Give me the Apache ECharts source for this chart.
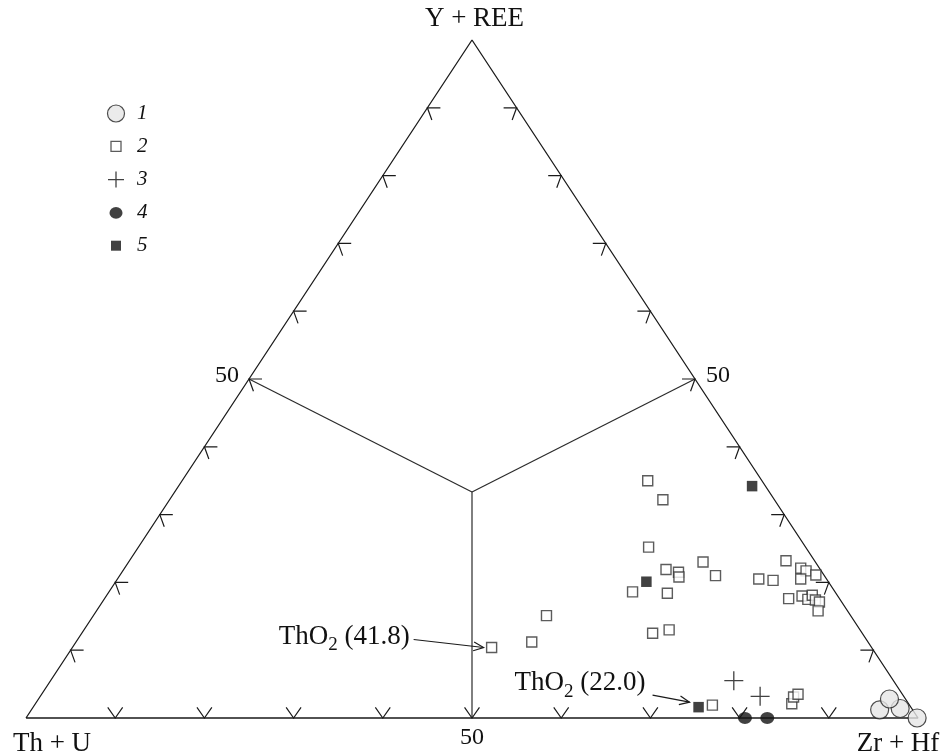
<!DOCTYPE html>
<html>
<head>
<meta charset="utf-8">
<script src="https://cdn.jsdelivr.net/npm/echarts@6/dist/echarts.min.js"></script>
<style>html,body{margin:0;padding:0;background:#fff}#chart{width:943px;height:756px}</style>
</head>
<body>
<div id="chart"></div>
<script>
// ---------------- data (compositions in %: [Th+U, Y+REE, Zr+Hf]) ----------------
const vertexNames = ['Th + U', 'Y + REE', 'Zr + Hf'];
const tickValues = [10, 20, 30, 40, 50, 60, 70, 80, 90];
const midLabel = '50';
const seriesNames = ['1', '2', '3', '4', '5'];

const group1 = [[3.7, 1.2, 95.1], [1.3, 1.4, 97.3], [1.8, 2.8, 95.4], [0.1, 0.0, 99.9]];
const group2 = [
  [12.8, 35.0, 52.2], [12.5, 32.2, 55.3], [17.6, 25.2, 57.2], [17.3, 21.9, 60.8],
  [16.1, 21.5, 62.4], [16.4, 20.8, 62.8], [12.6, 23.0, 64.4], [12.2, 21.0, 66.8],
  [22.7, 18.6, 58.7], [18.9, 18.4, 62.7], [23.5, 12.5, 64.0], [21.4, 13.0, 65.6],
  [34.1, 15.1, 50.8], [37.7, 11.2, 51.1], [42.6, 10.4, 47.0], [7.6, 20.5, 71.9],
  [6.1, 20.3, 73.6], [3.2, 23.2, 73.6], [2.1, 22.1, 75.8], [1.7, 21.7, 76.6],
  [2.9, 20.5, 76.6], [0.9, 21.1, 78.0], [5.7, 17.6, 76.7], [4.0, 18.0, 78.0],
  [3.6, 17.5, 78.9], [2.8, 18.1, 79.1], [2.8, 17.4, 79.8], [2.5, 17.1, 80.4],
  [3.3, 15.8, 80.9], [22.1, 1.9, 76.0], [13.1, 2.1, 84.8], [12.4, 3.1, 84.5],
  [11.7, 3.5, 84.8]
];
const group3 = [[17.9, 5.5, 76.6], [16.1, 3.2, 80.7]];
const group4 = [[19.4, 0.0, 80.6], [16.9, 0.0, 83.1]];
const group5 = [[1.5, 34.2, 64.3], [20.4, 20.1, 59.5], [23.8, 1.6, 74.6]];
const groups = [group1, group2, group3, group4, group5];

const annotations = [
  { label: 'ThO{s|2} (41.8)', group: 1, index: 14 },
  { label: 'ThO{s|2} (22.0)', group: 4, index: 2 }
];

// ---------------- helpers / styles ----------------
const FONT = '"Liberation Serif", "Times New Roman", serif';
const INK = '#1a1a1a';
function toXY(t) {
  const s = t[0] + t[1] + t[2];
  return [(t[2] + t[1] / 2) / s * 100, t[1] / s * 100];
}
const vertices = [[100, 0, 0], [0, 100, 0], [0, 0, 100]];
const centroid = [100 / 3, 100 / 3, 100 / 3];
const sideMids = [[50, 50, 0], [0, 50, 50], [50, 0, 50]];      // left, right, bottom
function sidePoint(side, t) {
  if (side === 0) return [100 - t, t, 0];
  if (side === 1) return [0, t, 100 - t];
  return [t, 0, 100 - t];
}
const TICK_LEN = 13, TICK_HALF = 35 * Math.PI / 180;
const TICK_DIR = [215, -35, 90];  // arrowhead pointing direction per side (deg, screen)
const VERTEX_LAYOUT = [[26, 26, 'center'], [2.5, -21, 'center'], [-20, 26, 'center']];
const MID_LAYOUT = [[-10, -3, 'right'], [11, -3, 'left'], [0, 20, 'center']];
const ANN_LAYOUT = [
  { from: [-78, -8], to: [-8, 0], text: [-82, -11] },
  { from: [-46, -12], to: [-9, -5], text: [-53, -24] }
];
function arrowHead(tip, ang, len, half) {
  const a1 = ang + Math.PI - half, a2 = ang + Math.PI + half;
  return [[tip[0] + len * Math.cos(a1), tip[1] + len * Math.sin(a1)], [tip[0], tip[1]],
          [tip[0] + len * Math.cos(a2), tip[1] + len * Math.sin(a2)]];
}

const tickData = [];
[0, 1, 2].forEach(side => tickValues.forEach(t => {
  const xy = toXY(sidePoint(side, t));
  tickData.push([xy[0], xy[1], side]);
}));

const triangle = [vertices[0], vertices[1], vertices[2], vertices[0]].map(toXY);

const chart = echarts.init(document.getElementById('chart'), null, { renderer: 'canvas' });

const pointStyles = [
  { symbol: 'circle', symbolSize: 18, itemStyle: { color: '#e6e6e6', borderColor: '#222', borderWidth: 1.2 }, z: 8 },
  { symbol: 'rect', symbolSize: 10, itemStyle: { color: '#fff', borderColor: '#333', borderWidth: 1.4 }, z: 5 },
  { symbol: 'path://M0,9.5H19M9.5,0V19', symbolSize: 19, itemStyle: { color: 'none', borderColor: '#111', borderWidth: 1.3 }, z: 6 },
  { symbol: 'circle', symbolSize: [14, 12], itemStyle: { color: '#111', borderColor: '#111', borderWidth: 0 }, z: 7 },
  { symbol: 'rect', symbolSize: 10.5, itemStyle: { color: '#111', borderColor: '#111', borderWidth: 0 }, z: 6 }
];
const legendIcons = [
  { icon: 'circle', itemStyle: { color: '#e6e6e6', borderColor: '#222', borderWidth: 1.2 } },
  { icon: 'path://M0,0M17,17M3.5,3.5h10v10h-10z', itemStyle: { color: '#fff', borderColor: '#333', borderWidth: 1.3 } },
  { icon: 'path://M0,0M17,17M0.5,8.5H16.5M8.5,0.5V16.5', itemStyle: { color: 'none', borderColor: '#111', borderWidth: 1.3 } },
  { icon: 'path://M0,0M17,17M2,8.5a6.5,5.8 0 1,0 13,0a6.5,5.8 0 1,0 -13,0z', itemStyle: { color: '#111', borderColor: '#111', borderWidth: 0 } },
  { icon: 'path://M0,0M17,17M3.5,3.5h10v10h-10z', itemStyle: { color: '#111', borderColor: '#111', borderWidth: 0 } }
];

const scatterSeries = seriesNames.map((name, k) => Object.assign({
  name: name,
  type: 'scatter',
  data: groups[k].map(toXY),
  silent: true,
  clip: false
}, pointStyles[k]));

chart.setOption({
  animation: false,
  backgroundColor: '#fff',
  grid: { left: 26, right: 25, top: 40, bottom: 38 },
  xAxis: { type: 'value', min: 0, max: 100, show: false },
  yAxis: { type: 'value', min: 0, max: 100, show: false },
  legend: {
    orient: 'vertical', left: 105, top: 103, padding: 0,
    itemWidth: 32, itemHeight: 17, itemGap: 11.8,
    selectedMode: false,
    textStyle: { fontFamily: FONT, fontStyle: 'italic', fontSize: 21, color: '#111' },
    data: seriesNames.map((n, k) => Object.assign({ name: n }, legendIcons[k]))
  },
  series: [
    {
      type: 'line', data: triangle, symbol: 'none', silent: true, clip: false, z: 2,
      lineStyle: { color: INK, width: 1.3 }
    },
    {
      type: 'custom', silent: true, clip: false, z: 2,
      data: sideMids.map(toXY),
      renderItem: (params, api) => {
        const c = api.coord(toXY(centroid));
        const p = api.coord([api.value(0), api.value(1)]);
        return { type: 'line', shape: { x1: c[0], y1: c[1], x2: p[0], y2: p[1] },
                 style: { stroke: '#2a2a2a', lineWidth: 1.2 } };
      }
    },
    {
      type: 'custom', silent: true, clip: false, z: 3,
      data: tickData,
      renderItem: (params, api) => {
        const p = api.coord([api.value(0), api.value(1)]);
        const ang = TICK_DIR[api.value(2)] * Math.PI / 180;
        return { type: 'polyline', shape: { points: arrowHead(p, ang, TICK_LEN, TICK_HALF) },
                 style: { stroke: INK, lineWidth: 1.2, fill: null } };
      }
    },
    {
      type: 'custom', silent: true, clip: false, z: 3,
      data: vertices.map(toXY),
      renderItem: (params, api) => {
        const i = params.dataIndex, L = VERTEX_LAYOUT[i];
        const p = api.coord([api.value(0), api.value(1)]);
        return { type: 'text', x: p[0] + L[0], y: p[1] + L[1],
                 style: { text: vertexNames[i], fontFamily: FONT, fontSize: 27, fill: '#111',
                          align: L[2], verticalAlign: 'middle' } };
      }
    },
    {
      type: 'custom', silent: true, clip: false, z: 3,
      data: sideMids.map(toXY),
      renderItem: (params, api) => {
        const i = params.dataIndex, L = MID_LAYOUT[i];
        const p = api.coord([api.value(0), api.value(1)]);
        return { type: 'text', x: p[0] + L[0], y: p[1] + L[1],
                 style: { text: midLabel, fontFamily: FONT, fontSize: 24, fill: '#111',
                          align: L[2], verticalAlign: 'middle' } };
      }
    },
    {
      type: 'custom', silent: true, clip: false, z: 4,
      data: annotations.map(a => toXY(groups[a.group][a.index])),
      renderItem: (params, api) => {
        const i = params.dataIndex, L = ANN_LAYOUT[i];
        const p = api.coord([api.value(0), api.value(1)]);
        const s = [p[0] + L.from[0], p[1] + L.from[1]], t = [p[0] + L.to[0], p[1] + L.to[1]];
        const ang = Math.atan2(t[1] - s[1], t[0] - s[0]);
        return { type: 'group', children: [
          { type: 'line', shape: { x1: s[0], y1: s[1], x2: t[0], y2: t[1] }, style: { stroke: INK, lineWidth: 1.2 } },
          { type: 'polyline', shape: { points: arrowHead(t, ang, 11, 24 * Math.PI / 180) }, style: { stroke: INK, lineWidth: 1.2, fill: null } },
          { type: 'text', x: p[0] + L.text[0], y: p[1] + L.text[1],
            style: { text: annotations[i].label, fontFamily: FONT, fontSize: 27, fill: '#111',
                     align: 'right', verticalAlign: 'middle',
                     rich: { s: { fontFamily: FONT, fontSize: 19, fill: '#111', padding: [18, 0, 0, 0] } } } }
        ] };
      }
    }
  ].concat(scatterSeries)
});
</script>
</body>
</html>
